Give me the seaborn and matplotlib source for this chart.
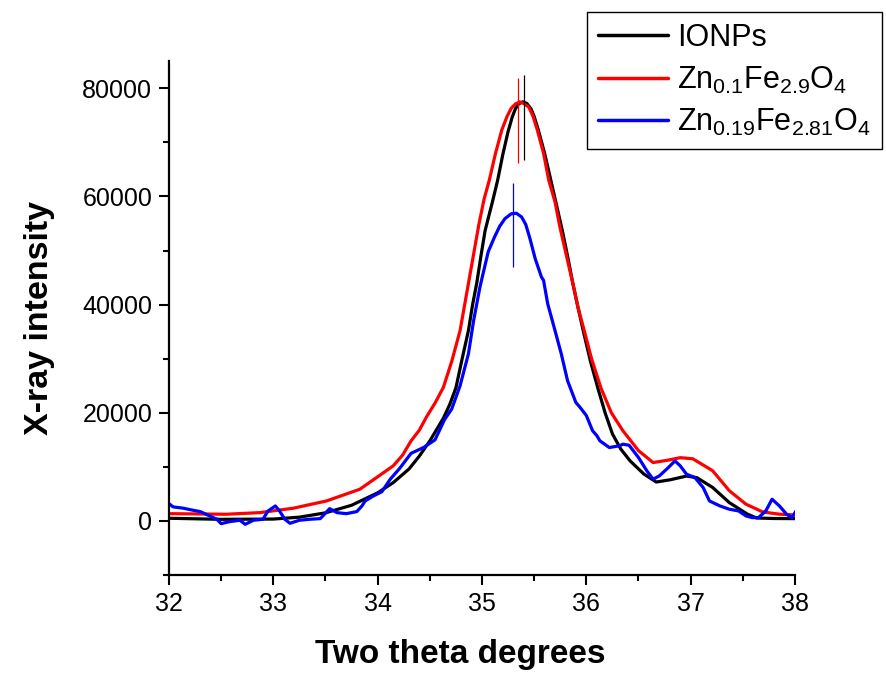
import matplotlib
matplotlib.use("Agg")
import matplotlib.pyplot as plt
import seaborn as sns
import pandas as pd
from matplotlib.ticker import MultipleLocator

# XRD (311) peak region
ionps_x = [32.0, 32.5, 33.0, 33.25, 33.5, 33.75, 34.0, 34.15, 34.3, 34.4, 34.5, 34.63,
           34.69, 34.75, 34.81, 34.87, 34.91, 34.95, 34.99, 35.03, 35.1, 35.15, 35.2,
           35.25, 35.29, 35.32, 35.35, 35.39, 35.43, 35.47, 35.5, 35.54, 35.6, 35.66,
           35.77, 35.82, 35.87, 35.92, 35.97, 36.04, 36.11, 36.18, 36.25, 36.33, 36.42,
           36.55, 36.67, 36.8, 36.96, 37.06, 37.21, 37.37, 37.54, 37.63, 37.8, 38.0]
ionps_y = [500, 300, 350, 700, 1500, 2900, 5200, 7100, 9600, 12000, 14800, 19000,
           21500, 24600, 30000, 35200, 40000, 44000, 49000, 53700, 59000, 63000, 67800,
           72000, 74700, 76200, 77100, 77500, 77200, 76200, 74800, 72300, 68000, 63000,
           53700, 49000, 44000, 39500, 35200, 29500, 24600, 20000, 16100, 13300, 11100,
           8700, 7200, 7600, 8300, 8000, 6200, 3400, 1300, 550, 450, 430]

zn01_x = [32.0, 32.55, 32.87, 33.19, 33.51, 33.83, 34.15, 34.24, 34.32, 34.4, 34.47,
          34.55, 34.63, 34.71, 34.79, 34.88, 34.97, 35.02, 35.07, 35.13, 35.19, 35.24,
          35.28, 35.32, 35.36, 35.4, 35.45, 35.49, 35.53, 35.59, 35.64, 35.7, 35.745,
          35.81, 35.87, 35.92, 35.98, 36.05, 36.14, 36.24, 36.35, 36.5, 36.64, 36.77,
          36.9, 37.02, 37.21, 37.37, 37.53, 37.69, 37.85, 38.01]
zn01_y = [1350, 1240, 1540, 2350, 3700, 5870, 10200, 12200, 14800, 16800, 19300,
          21800, 24700, 29500, 35200, 45000, 54800, 59500, 63000, 68000, 72300, 74800,
          76300, 77100, 77500, 77200, 76500, 74800, 72300, 68000, 63000, 59000, 54500,
          49000, 44000, 39500, 35200, 30000, 24600, 20000, 16700, 13000, 10800, 11200,
          11700, 11500, 9300, 5600, 3100, 1670, 1250, 1100]

zn019_x = [32.0, 32.04, 32.14, 32.23, 32.3, 32.39, 32.46, 32.5, 32.58, 32.68, 32.73,
           32.81, 32.9, 32.95, 33.02, 33.06, 33.11, 33.16, 33.25, 33.35, 33.45, 33.49,
           33.54, 33.61, 33.7, 33.8, 33.85, 33.88, 33.96, 34.04, 34.12, 34.21, 34.32,
           34.44, 34.55, 34.64, 34.71, 34.79, 34.87, 34.92, 34.98, 35.01, 35.06, 35.12,
           35.17, 35.22, 35.28, 35.33, 35.38, 35.42, 35.46, 35.51, 35.57, 35.59, 35.63,
           35.7, 35.76, 35.82, 35.9, 35.94, 36.0, 36.06, 36.1, 36.13, 36.22, 36.32,
           36.35, 36.41, 36.5, 36.58, 36.64, 36.7, 36.77, 36.85, 36.9, 36.96, 37.04,
           37.12, 37.18, 37.28, 37.37, 37.46, 37.53, 37.59, 37.65, 37.72, 37.78, 37.85,
           37.92, 37.97, 38.01]
zn019_y = [3200, 2600, 2350, 1980, 1730, 930, 310, -500, -130, 130, -620,
           130, 310, 1850, 2780, 1850, 310, -430, 130, 310, 430, 1240,
           2280, 1540, 1350, 1730, 2780, 3700, 4630, 5400, 7700, 9700, 12500,
           13580, 15000, 18700, 20700, 25000, 30900, 37060, 43200, 45700, 49800, 52500,
           54500, 55900, 56800, 56900, 56200, 54800, 52200, 48500, 45100, 44500, 40150,
           35200, 30900, 25940, 21900, 21000, 19500, 16680, 15800, 14820, 13580, 13900,
           14200, 14000, 11730, 9270, 7720, 8340, 9580, 11100, 10190, 8650, 8030,
           6170, 3700, 2780, 2170, 1850, 930, 620, 620, 1850, 4020, 2780,
           1240, 620, 1850]

labels = ['IONPs',
          r'Zn$_{\mathregular{0.1}}$Fe$_{\mathregular{2.9}}$O$_{\mathregular{4}}$',
          r'Zn$_{\mathregular{0.19}}$Fe$_{\mathregular{2.81}}$O$_{\mathregular{4}}$']
colors = ['black', 'red', 'blue']

# peak position markers
peak_x = [35.40, 35.345, 35.30]
peak_lo = [66700, 66100, 46900]
peak_hi = [82460, 81850, 62580]

sns.set_style('ticks')
plt.rcParams['font.family'] = ['Liberation Sans', 'DejaVu Sans']
plt.rcParams['mathtext.fontset'] = 'custom'
plt.rcParams['mathtext.rm'] = 'Liberation Sans'
plt.rcParams['text.color'] = 'black'
plt.rcParams['axes.labelcolor'] = 'black'
plt.rcParams['xtick.color'] = 'black'
plt.rcParams['ytick.color'] = 'black'

fig = plt.figure(figsize=(8.86, 6.75), dpi=100)
ax = fig.add_axes([0.1907, 0.1481, 0.7066, 0.7611])

series = [(ionps_x, ionps_y), (zn01_x, zn01_y), (zn019_x, zn019_y)]
for (xs, ys), lab, c in zip(series, labels, colors):
    df = pd.DataFrame({'x': xs, 'y': ys})
    sns.lineplot(data=df, x='x', y='y', ax=ax, color=c, lw=2.3, label=lab, sort=False)

ax.vlines(peak_x, peak_lo, peak_hi, colors=colors, lw=0.9)

ax.set_xlim(32, 38)
ax.set_ylim(-10000, 85000)
ax.xaxis.set_major_locator(MultipleLocator(1))
ax.xaxis.set_minor_locator(MultipleLocator(0.5))
ax.yaxis.set_major_locator(MultipleLocator(20000))
ax.yaxis.set_minor_locator(MultipleLocator(10000))
ax.tick_params(which='major', length=7, width=1.5, labelsize=18, direction='out',
               color='black', labelcolor='black', pad=5)
ax.tick_params(which='minor', length=4, width=1.5, direction='out', color='black')
ax.set_yticks([0, 20000, 40000, 60000, 80000])

sns.despine(ax=ax)
for s in ['left', 'bottom']:
    ax.spines[s].set_linewidth(1.6)
    ax.spines[s].set_color('black')

ax.set_xlabel('Two theta degrees', fontsize=24, fontweight='bold', color='black')
ax.xaxis.set_label_coords(0.466, -0.124)
ax.set_ylabel('X-ray intensity', fontsize=24.5, fontweight='bold', labelpad=20, color='black')

leg = ax.legend(loc='upper right', bbox_to_anchor=(0.995, 0.982), bbox_transform=fig.transFigure,
                fontsize=22, frameon=True, fancybox=False, framealpha=1, edgecolor='black',
                handlelength=2.3, handletextpad=0.3, borderpad=0.35, labelspacing=0.38,
                borderaxespad=0)
leg.get_frame().set_linewidth(1.0)
for line in leg.get_lines():
    line.set_linewidth(2.5)

fig.savefig('out.png', dpi=100)
